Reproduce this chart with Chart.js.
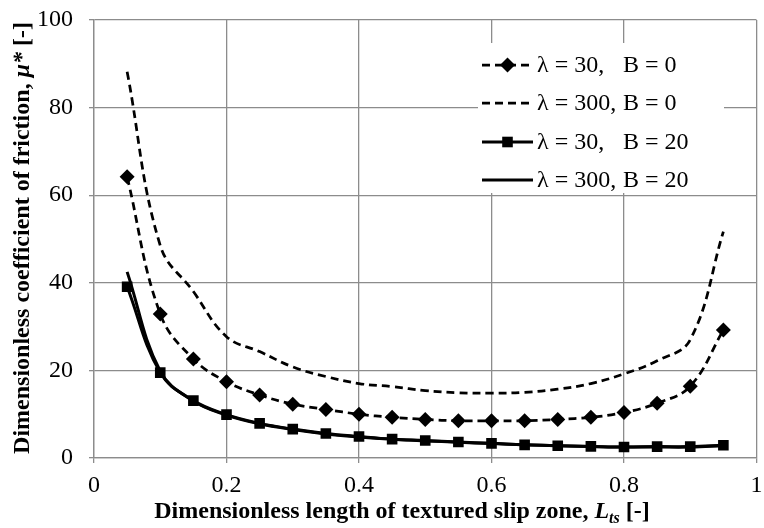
<!DOCTYPE html>
<html>
<head>
<meta charset="utf-8">
<script src="https://cdn.jsdelivr.net/npm/chart.js@4.4.0/dist/chart.umd.min.js"></script>
<style>
  html, body { margin: 0; padding: 0; background: #fff; }
  #frictionChart { display: block; }
</style>
</head>
<body>
<canvas id="frictionChart" width="764" height="528"></canvas>
<script>
// slip zone length L_ts
let slipLength = [0.05, 0.1, 0.15, 0.2, 0.25, 0.3, 0.35, 0.4, 0.45, 0.5,
  0.55, 0.6, 0.65, 0.7, 0.75, 0.8, 0.85, 0.9, 0.95];

// dimensionless friction mu*
let mu30B0 = [64.2, 32.9, 22.6, 17.4, 14.4, 12.3, 11.1, 10.0, 9.3, 8.8,
  8.5, 8.5, 8.5, 8.8, 9.3, 10.4, 12.5, 16.4, 29.2];
let mu300B0 = [88.2, 48.5, 38.0, 27.7, 24.3, 20.8, 18.6, 17.0, 16.3, 15.4,
  14.9, 14.8, 15.0, 15.7, 17.0, 19.2, 22.2, 27.0, 51.7];
let mu30B20 = [39.1, 19.5, 13.1, 9.9, 7.9, 6.6, 5.6, 4.9, 4.3, 4.0,
  3.65, 3.35, 3.0, 2.8, 2.65, 2.5, 2.6, 2.6, 2.9];
let mu300B20 = [42.5, 19.8, 13.0, 9.8, 7.8, 6.5, 5.5, 4.8, 4.3, 3.9,
  3.6, 3.3, 3.0, 2.8, 2.6, 2.5, 2.5, 2.5, 2.8];

let seriesLabels = ["λ = 30, B = 0", "λ = 300, B = 0", "λ = 30, B = 20", "λ = 300, B = 20"];
let xTicks = [0, 0.2, 0.4, 0.6, 0.8, 1];
let yTicks = [0, 20, 40, 60, 80, 100];

const serif = "'Liberation Serif', 'Times New Roman', serif";
const gridGray = "#8c8c8c";

function toPoints(values) {
  return values.map((v, i) => ({ x: slipLength[i], y: v }));
}

// text made of parts (italic, subscript), centred on x
function drawRich(ctx, parts, x, y) {
  let total = 0;
  parts.forEach((p) => {
    ctx.font = p.font;
    p.w = ctx.measureText(p.text).width;
    total += p.w;
  });
  let cx = x - total / 2;
  parts.forEach((p) => {
    ctx.font = p.font;
    ctx.fillText(p.text, cx, y + (p.dy || 0));
    cx += p.w;
  });
}

const titlePlugin = {
  id: "titlePlugin",
  afterDraw(chart) {
    const ctx = chart.ctx;
    ctx.save();
    ctx.fillStyle = "#000";
    ctx.textBaseline = "alphabetic";
    ctx.textAlign = "left";
    drawRich(ctx, [
      { text: "Dimensionless length of textured slip zone, ", font: "bold 24px " + serif },
      { text: "L", font: "italic bold 24px " + serif },
      { text: "ts", font: "italic bold 16px " + serif, dy: 5 },
      { text: " [-]", font: "bold 24px " + serif },
    ], 402, 518);

    ctx.translate(29, 238);
    ctx.rotate(-Math.PI / 2);
    drawRich(ctx, [
      { text: "Dimensionless coefficient of friction, ", font: "bold 24px " + serif },
      { text: "μ*", font: "italic bold 24px " + serif },
      { text: " [-]", font: "bold 24px " + serif },
    ], 0, 0);
    ctx.restore();
  },
};

const legendPlugin = {
  id: "legendPlugin",
  afterDraw(chart) {
    const ctx = chart.ctx;
    ctx.save();
    ctx.fillStyle = "#fff";
    ctx.fillRect(478, 43, 246, 150);
    let rows = [65, 103, 142, 180];
    chart.data.datasets.forEach((ds, i) => {
      let y = rows[i];
      ctx.strokeStyle = ds.borderColor;
      ctx.lineWidth = ds.borderWidth;
      ctx.setLineDash(ds.borderDash || []);
      ctx.beginPath();
      ctx.moveTo(482, y);
      ctx.lineTo(533, y);
      ctx.stroke();
      ctx.setLineDash([]);
      if (ds.pointRadius > 0) {
        ctx.fillStyle = "#000";
        Chart.helpers.drawPoint(ctx, {
          pointStyle: ds.pointStyle,
          radius: ds.pointRadius,
          rotation: 0,
          borderWidth: 0,
        }, 507.5, y);
      }
      ctx.fillStyle = "#000";
      ctx.font = "24px " + serif;
      ctx.textBaseline = "middle";
      let parts = ds.label.split(", ");
      ctx.fillText(parts[0] + ",", 537, y + 1);
      ctx.fillText(parts[1], 623, y + 1);
    });
    ctx.restore();
  },
};

new Chart(document.getElementById("frictionChart"), {
  type: "line",
  data: {
    datasets: [
      {
        label: seriesLabels[0],
        data: toPoints(mu30B0),
        borderColor: "#000",
        backgroundColor: "#000",
        borderWidth: 2.75,
        borderDash: [8, 5],
        pointStyle: "rectRot",
        pointRadius: 7.5,
        pointBorderWidth: 0,
        tension: 0.4,
      },
      {
        label: seriesLabels[1],
        data: toPoints(mu300B0),
        borderColor: "#000",
        borderWidth: 2.75,
        borderDash: [8, 5],
        pointRadius: 0,
        tension: 0.4,
      },
      {
        label: seriesLabels[2],
        data: toPoints(mu30B20),
        borderColor: "#000",
        backgroundColor: "#000",
        borderWidth: 3,
        pointStyle: "rect",
        pointRadius: 7.5,
        pointBorderWidth: 0,
        tension: 0.4,
      },
      {
        label: seriesLabels[3],
        data: toPoints(mu300B20),
        borderColor: "#000",
        borderWidth: 3,
        pointRadius: 0,
        tension: 0.4,
      },
    ],
  },
  options: {
    responsive: false,
    animation: false,
    layout: { padding: { left: 0, right: 5, top: 20, bottom: 0 } },
    plugins: {
      legend: { display: false },
      tooltip: { enabled: false },
    },
    scales: {
      x: {
        type: "linear",
        min: 0,
        max: 1,
        afterBuildTicks: (scale) => {
          scale.ticks = xTicks.map((v) => ({ value: v }));
        },
        afterFit: (scale) => {
          scale.height = 70;
        },
        ticks: {
          color: "#000",
          // tall line height pushes the labels down without adding side padding
          font: { family: serif, size: 24, lineHeight: 2.04 },
          padding: -2,
          maxRotation: 0,
          callback: (v) => String(v),
        },
        grid: { color: gridGray, lineWidth: 1.3, tickLength: 5 },
        border: { color: gridGray, width: 1.3 },
      },
      y: {
        min: 0,
        max: 100,
        afterBuildTicks: (scale) => {
          scale.ticks = yTicks.map((v) => ({ value: v }));
        },
        afterFit: (scale) => {
          scale.width = 94;
        },
        ticks: {
          color: "#000",
          font: { family: serif, size: 24, lineHeight: 0.3 },
          padding: 16,
          callback: (v) => String(v),
        },
        grid: { color: gridGray, lineWidth: 1.3, tickLength: 5 },
        border: { color: gridGray, width: 1.3 },
      },
    },
  },
  plugins: [titlePlugin, legendPlugin],
});
</script>
</body>
</html>
